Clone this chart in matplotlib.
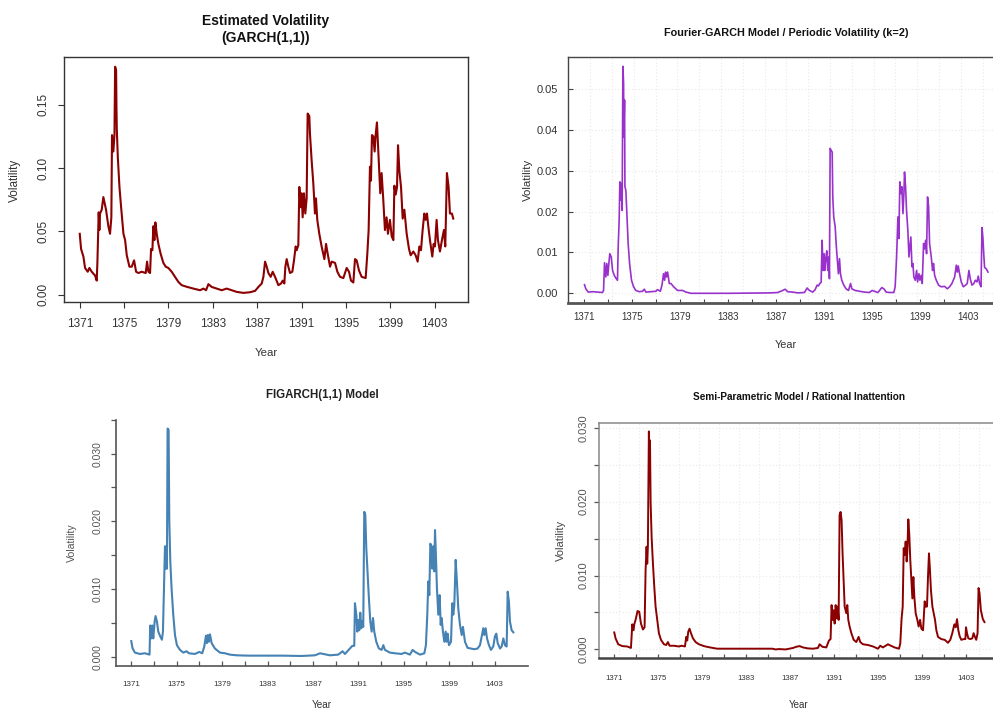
import matplotlib
matplotlib.use("Agg")
import matplotlib.pyplot as plt
from matplotlib.ticker import FixedLocator

plt.rcParams['font.family'] = ['Liberation Sans', 'DejaVu Sans']

# ---------------- data ----------------
year_ticks = [1371, 1375, 1379, 1383, 1387, 1391, 1395, 1399, 1403]
minor_year_ticks = [1373, 1377, 1381, 1385, 1389, 1393, 1397, 1401]

# Panel 1: GARCH(1,1)
garch_years = [
    1371.00, 1371.12, 1371.33, 1371.48, 1371.72, 1371.87, 1372.08, 1372.38, 1372.53, 1372.59,
    1372.71, 1372.77, 1372.83, 1372.98, 1373.13, 1373.37, 1373.58, 1373.73, 1373.85, 1373.91,
    1374.03, 1374.13, 1374.19, 1374.28, 1374.31, 1374.34, 1374.43, 1374.58, 1374.73, 1374.94,
    1375.09, 1375.24, 1375.48, 1375.69, 1375.90, 1376.08, 1376.29, 1376.59, 1376.95, 1377.07,
    1377.19, 1377.34, 1377.43, 1377.55, 1377.64, 1377.73, 1377.82, 1377.94, 1378.09, 1378.30,
    1378.54, 1378.75, 1378.99, 1379.29, 1379.59, 1379.89, 1380.19, 1380.65, 1381.25, 1381.85,
    1382.15, 1382.39, 1382.60, 1382.90, 1383.35, 1383.80, 1384.25, 1384.70, 1385.15, 1385.75,
    1386.35, 1386.81, 1387.11, 1387.41, 1387.56, 1387.71, 1387.86, 1388.01, 1388.22, 1388.40,
    1388.61, 1388.91, 1389.15, 1389.30, 1389.45, 1389.54, 1389.66, 1389.81, 1389.96, 1390.17,
    1390.32, 1390.47, 1390.56, 1390.71, 1390.80, 1390.92, 1391.01, 1391.10, 1391.22, 1391.34,
    1391.46, 1391.55, 1391.70, 1391.76, 1391.91, 1392.06, 1392.21, 1392.30, 1392.42, 1392.60,
    1392.81, 1393.06, 1393.21, 1393.36, 1393.57, 1393.72, 1394.02, 1394.23, 1394.47, 1394.77,
    1395.07, 1395.28, 1395.46, 1395.67, 1395.82, 1395.97, 1396.18, 1396.42, 1396.78, 1396.93,
    1397.05, 1397.17, 1397.26, 1397.35, 1397.47, 1397.59, 1397.68, 1397.80, 1397.89, 1398.01,
    1398.10, 1398.22, 1398.37, 1398.52, 1398.67, 1398.79, 1398.97, 1399.13, 1399.28, 1399.37,
    1399.49, 1399.61, 1399.70, 1399.82, 1399.97, 1400.12, 1400.27, 1400.48, 1400.69, 1400.84,
    1401.08, 1401.29, 1401.47, 1401.62, 1401.77, 1401.92, 1402.07, 1402.19, 1402.31, 1402.43,
    1402.58, 1402.79, 1402.91, 1403.03, 1403.18, 1403.30, 1403.48, 1403.66, 1403.84, 1403.96,
    1404.11, 1404.26, 1404.38, 1404.56, 1404.68]
garch_vol = [
    0.048, 0.036, 0.030, 0.021, 0.018, 0.021, 0.018, 0.015, 0.011, 0.025,
    0.065, 0.051, 0.064, 0.067, 0.077, 0.067, 0.054, 0.048, 0.061, 0.126,
    0.113, 0.126, 0.180, 0.177, 0.148, 0.131, 0.109, 0.085, 0.069, 0.048,
    0.043, 0.031, 0.022, 0.022, 0.027, 0.018, 0.017, 0.018, 0.017, 0.026,
    0.018, 0.017, 0.036, 0.035, 0.054, 0.043, 0.057, 0.048, 0.040, 0.032,
    0.025, 0.022, 0.021, 0.018, 0.014, 0.010, 0.0074, 0.0061, 0.0047, 0.0034,
    0.0047, 0.0034, 0.0082, 0.006, 0.0047, 0.0034, 0.0047, 0.0034, 0.0021, 0.0013,
    0.0018, 0.0029, 0.006, 0.0087, 0.014, 0.026, 0.022, 0.017, 0.014, 0.018,
    0.014, 0.0074, 0.0087, 0.011, 0.0087, 0.022, 0.028, 0.022, 0.017, 0.018,
    0.027, 0.038, 0.035, 0.039, 0.085, 0.069, 0.080, 0.061, 0.080, 0.064,
    0.076, 0.143, 0.141, 0.127, 0.106, 0.088, 0.064, 0.076, 0.059, 0.048,
    0.038, 0.028, 0.040, 0.032, 0.022, 0.026, 0.025, 0.018, 0.014, 0.013,
    0.021, 0.018, 0.011, 0.0095, 0.028, 0.027, 0.019, 0.014, 0.013, 0.032,
    0.051, 0.101, 0.090, 0.126, 0.125, 0.113, 0.126, 0.136, 0.119, 0.096,
    0.080, 0.096, 0.075, 0.051, 0.061, 0.048, 0.059, 0.046, 0.043, 0.086,
    0.079, 0.085, 0.118, 0.098, 0.085, 0.060, 0.067, 0.048, 0.036, 0.031,
    0.034, 0.031, 0.026, 0.038, 0.035, 0.051, 0.064, 0.059, 0.064, 0.054,
    0.043, 0.030, 0.040, 0.038, 0.059, 0.043, 0.034, 0.043, 0.051, 0.038,
    0.096, 0.085, 0.064, 0.064, 0.060]

# Panel 2: Fourier-GARCH
fourier_years = [
    1371.00, 1371.11, 1371.31, 1371.67, 1372.09, 1372.50, 1372.59, 1372.67, 1372.78, 1372.86,
    1372.95, 1373.03, 1373.11, 1373.23, 1373.34, 1373.48, 1373.64, 1373.75, 1373.81, 1373.89,
    1373.95, 1374.03, 1374.09, 1374.14, 1374.20, 1374.26, 1374.28, 1374.34, 1374.37, 1374.45,
    1374.53, 1374.64, 1374.76, 1374.92, 1375.09, 1375.28, 1375.56, 1375.84, 1375.98, 1376.12,
    1376.54, 1376.95, 1377.09, 1377.32, 1377.46, 1377.59, 1377.68, 1377.76, 1377.84, 1377.93,
    1378.07, 1378.21, 1378.43, 1378.76, 1379.18, 1379.46, 1379.88, 1383.00, 1386.50, 1387.11,
    1387.53, 1387.72, 1387.94, 1388.36, 1388.78, 1389.34, 1389.56, 1389.75, 1390.03, 1390.23,
    1390.39, 1390.50, 1390.62, 1390.73, 1390.81, 1390.89, 1390.98, 1391.03, 1391.12, 1391.20,
    1391.28, 1391.37, 1391.42, 1391.48, 1391.56, 1391.65, 1391.70, 1391.78, 1391.90, 1391.98,
    1392.06, 1392.17, 1392.26, 1392.34, 1392.45, 1392.62, 1392.81, 1393.01, 1393.18, 1393.29,
    1393.57, 1393.93, 1394.34, 1394.76, 1394.98, 1395.18, 1395.46, 1395.60, 1395.79, 1395.96,
    1396.15, 1396.43, 1396.79, 1396.90, 1397.02, 1397.13, 1397.21, 1397.29, 1397.38, 1397.46,
    1397.55, 1397.63, 1397.68, 1397.77, 1397.85, 1397.96, 1398.05, 1398.13, 1398.21, 1398.30,
    1398.38, 1398.46, 1398.58, 1398.69, 1398.77, 1398.88, 1398.97, 1399.07, 1399.16, 1399.27,
    1399.35, 1399.44, 1399.52, 1399.60, 1399.69, 1399.77, 1399.91, 1400.02, 1400.10, 1400.19,
    1400.33, 1400.52, 1400.74, 1401.02, 1401.25, 1401.44, 1401.63, 1401.86, 1402.00, 1402.08,
    1402.16, 1402.27, 1402.41, 1402.58, 1402.77, 1402.91, 1403.05, 1403.16, 1403.30, 1403.46,
    1403.58, 1403.72, 1403.83, 1403.94, 1404.06, 1404.14, 1404.22, 1404.30, 1404.36, 1404.50,
    1404.64]
fourier_vol = [
    0.0021, 0.0011, 0.0003, 0.0004, 0.0003, 0.0002, 0.0007, 0.0075, 0.0040, 0.0073,
    0.0044, 0.0073, 0.0097, 0.0089, 0.0056, 0.0044, 0.0036, 0.0032, 0.0114, 0.0179,
    0.0273, 0.0228, 0.0269, 0.0203, 0.0556, 0.0514, 0.0383, 0.0473, 0.0261, 0.0252,
    0.0195, 0.0122, 0.0073, 0.0032, 0.0016, 0.0007, 0.0004, 0.0005, 0.0010, 0.0003,
    0.0004, 0.0005, 0.0009, 0.0005, 0.0020, 0.0048, 0.0032, 0.0052, 0.0040, 0.0052,
    0.0024, 0.0024, 0.0016, 0.0007, 0.0007, 0.0003, 0.0000, 0.0000, 0.0001, 0.0002,
    0.0007, 0.0010, 0.0004, 0.0003, 0.0001, 0.0002, 0.0013, 0.0007, 0.0003, 0.0009,
    0.0020, 0.0018, 0.0024, 0.0027, 0.0130, 0.0056, 0.0097, 0.0056, 0.0085, 0.0104,
    0.0056, 0.0089, 0.0036, 0.0355, 0.0350, 0.0346, 0.0236, 0.0187, 0.0163, 0.0122,
    0.0089, 0.0048, 0.0085, 0.0048, 0.0032, 0.0020, 0.0011, 0.0007, 0.0024, 0.0011,
    0.0007, 0.0005, 0.0003, 0.0002, 0.0007, 0.0005, 0.0002, 0.0007, 0.0014, 0.0011,
    0.0003, 0.0002, 0.0002, 0.0016, 0.0089, 0.0187, 0.0134, 0.0273, 0.0244, 0.0261,
    0.0195, 0.0244, 0.0297, 0.0261, 0.0203, 0.0154, 0.0089, 0.0114, 0.0138, 0.0065,
    0.0073, 0.0040, 0.0032, 0.0056, 0.0028, 0.0048, 0.0032, 0.0044, 0.0024, 0.0122,
    0.0109, 0.0130, 0.0097, 0.0236, 0.0212, 0.0122, 0.0089, 0.0056, 0.0073, 0.0044,
    0.0032, 0.0020, 0.0016, 0.0017, 0.0011, 0.0016, 0.0024, 0.0040, 0.0069, 0.0052,
    0.0067, 0.0048, 0.0028, 0.0016, 0.0020, 0.0024, 0.0056, 0.0036, 0.0020, 0.0024,
    0.0032, 0.0028, 0.0042, 0.0024, 0.0016, 0.0161, 0.0134, 0.0089, 0.0063, 0.0060,
    0.0052]

# Panel 3: FIGARCH(1,1)
figarch_years = [
    1371.00, 1371.12, 1371.32, 1371.76, 1372.20, 1372.61, 1372.67, 1372.76, 1372.85, 1372.94,
    1373.06, 1373.14, 1373.26, 1373.38, 1373.55, 1373.70, 1373.79, 1373.88, 1373.97, 1374.02,
    1374.08, 1374.14, 1374.20, 1374.29, 1374.35, 1374.44, 1374.55, 1374.70, 1374.85, 1375.02,
    1375.29, 1375.58, 1375.87, 1376.08, 1376.61, 1376.99, 1377.25, 1377.43, 1377.58, 1377.66,
    1377.75, 1377.84, 1377.93, 1378.08, 1378.37, 1378.81, 1379.25, 1379.69, 1380.28, 1381.31,
    1382.77, 1384.24, 1386.00, 1387.18, 1387.62, 1387.91, 1388.50, 1389.23, 1389.61, 1389.82,
    1390.26, 1390.47, 1390.64, 1390.70, 1390.82, 1390.91, 1390.99, 1391.08, 1391.17, 1391.26,
    1391.35, 1391.43, 1391.52, 1391.61, 1391.70, 1391.82, 1391.93, 1392.05, 1392.17, 1392.29,
    1392.40, 1392.58, 1392.81, 1393.05, 1393.20, 1393.34, 1393.78, 1394.22, 1394.81, 1395.10,
    1395.54, 1395.78, 1395.99, 1396.43, 1396.81, 1396.95, 1397.07, 1397.16, 1397.25, 1397.34,
    1397.42, 1397.51, 1397.60, 1397.69, 1397.75, 1397.83, 1397.92, 1398.04, 1398.16, 1398.25,
    1398.33, 1398.45, 1398.57, 1398.69, 1398.77, 1398.86, 1398.98, 1399.16, 1399.27, 1399.36,
    1399.45, 1399.57, 1399.68, 1399.80, 1399.95, 1400.10, 1400.21, 1400.39, 1400.62, 1400.92,
    1401.21, 1401.50, 1401.71, 1401.89, 1402.00, 1402.09, 1402.21, 1402.33, 1402.50, 1402.68,
    1402.88, 1403.03, 1403.15, 1403.27, 1403.48, 1403.62, 1403.77, 1403.91, 1404.06, 1404.15,
    1404.26, 1404.35, 1404.50, 1404.65]
figarch_vol = [
    0.0023, 0.0012, 0.0006, 0.0004, 0.0005, 0.0003, 0.0046, 0.0027, 0.0046, 0.0027,
    0.0052, 0.0060, 0.0052, 0.0037, 0.0030, 0.0025, 0.0037, 0.0101, 0.0163, 0.0130,
    0.0163, 0.0130, 0.0337, 0.0335, 0.0200, 0.0140, 0.0101, 0.0062, 0.0032, 0.0017,
    0.0010, 0.0006, 0.0008, 0.0005, 0.0004, 0.0007, 0.0005, 0.0015, 0.0031, 0.0020,
    0.0032, 0.0022, 0.0033, 0.0020, 0.0012, 0.0006, 0.0005, 0.0003, 0.0002, 0.00015,
    0.00015, 0.00015, 0.0001, 0.0002, 0.0005, 0.0004, 0.0002, 0.0003, 0.0008, 0.0004,
    0.0012, 0.0016, 0.0016, 0.0079, 0.0062, 0.0037, 0.0054, 0.0039, 0.0065, 0.0042,
    0.0052, 0.0044, 0.0214, 0.0210, 0.0160, 0.0121, 0.0086, 0.0052, 0.0037, 0.0057,
    0.0037, 0.0022, 0.0012, 0.0010, 0.0017, 0.0010, 0.0006, 0.0005, 0.0004, 0.0006,
    0.0003, 0.0010, 0.0007, 0.0003, 0.0005, 0.0017, 0.0062, 0.0111, 0.0091, 0.0167,
    0.0163, 0.0130, 0.0163, 0.0126, 0.0187, 0.0150, 0.0101, 0.0062, 0.0091, 0.0047,
    0.0057, 0.0037, 0.0022, 0.0037, 0.0022, 0.0034, 0.0017, 0.0022, 0.0079, 0.0062,
    0.0076, 0.0143, 0.0111, 0.0071, 0.0047, 0.0032, 0.0044, 0.0022, 0.0013, 0.0012,
    0.0011, 0.0012, 0.0017, 0.0032, 0.0042, 0.0032, 0.0042, 0.0027, 0.0017, 0.0010,
    0.0015, 0.0030, 0.0034, 0.0020, 0.0012, 0.0015, 0.0027, 0.0017, 0.0015, 0.0096,
    0.0081, 0.0052, 0.0039, 0.0036]

# Panel 4: Semi-parametric / rational inattention
semi_years = [
    1371.00, 1371.12, 1371.36, 1371.73, 1372.18, 1372.52, 1372.64, 1372.76, 1372.82, 1372.94,
    1373.12, 1373.27, 1373.43, 1373.61, 1373.76, 1373.85, 1373.94, 1374.00, 1374.06, 1374.15,
    1374.22, 1374.25, 1374.31, 1374.40, 1374.52, 1374.64, 1374.76, 1374.91, 1375.06, 1375.25,
    1375.52, 1375.73, 1375.88, 1376.03, 1376.43, 1376.88, 1377.13, 1377.43, 1377.55, 1377.64,
    1377.73, 1377.85, 1377.98, 1378.16, 1378.40, 1378.70, 1379.16, 1379.61, 1380.37, 1381.74,
    1383.25, 1385.38, 1385.68, 1385.98, 1386.59, 1387.26, 1387.56, 1387.86, 1388.17, 1388.62,
    1389.08, 1389.53, 1389.68, 1389.93, 1390.29, 1390.53, 1390.68, 1390.77, 1390.87, 1390.96,
    1391.05, 1391.14, 1391.23, 1391.32, 1391.41, 1391.50, 1391.59, 1391.68, 1391.77, 1391.87,
    1391.96, 1392.11, 1392.20, 1392.29, 1392.41, 1392.57, 1392.78, 1393.02, 1393.23, 1393.38,
    1393.62, 1394.08, 1394.54, 1394.99, 1395.20, 1395.44, 1395.90, 1396.11, 1396.50, 1396.90,
    1397.02, 1397.14, 1397.24, 1397.33, 1397.42, 1397.51, 1397.60, 1397.66, 1397.75, 1397.84,
    1397.93, 1398.03, 1398.12, 1398.21, 1398.30, 1398.42, 1398.57, 1398.69, 1398.82, 1398.94,
    1399.09, 1399.24, 1399.33, 1399.45, 1399.54, 1399.63, 1399.72, 1399.81, 1399.94, 1400.06,
    1400.18, 1400.30, 1400.45, 1400.75, 1401.06, 1401.36, 1401.57, 1401.75, 1401.94, 1402.06,
    1402.18, 1402.30, 1402.42, 1402.57, 1402.79, 1402.94, 1403.00, 1403.09, 1403.21, 1403.39,
    1403.57, 1403.69, 1403.81, 1403.93, 1404.05, 1404.14, 1404.23, 1404.35, 1404.53, 1404.68]
semi_vol = [
    0.0023, 0.0015, 0.0007, 0.00045, 0.0004, 0.0002, 0.0034, 0.0026, 0.0034, 0.0040,
    0.0052, 0.0051, 0.0035, 0.0027, 0.0030, 0.0107, 0.0139, 0.0116, 0.0140, 0.0295,
    0.0229, 0.0283, 0.0198, 0.0152, 0.0116, 0.0085, 0.0058, 0.0040, 0.0022, 0.0013,
    0.0007, 0.0006, 0.0010, 0.0005, 0.0005, 0.0004, 0.0005, 0.0004, 0.0017, 0.0012,
    0.0024, 0.0028, 0.0022, 0.0015, 0.0010, 0.0007, 0.00045, 0.0003, 0.0001, 0.0001,
    0.0001, 0.0001, 0.0000, 0.00005, 0.0000, 0.0002, 0.00036, 0.00045, 0.00027, 0.00014,
    0.0001, 0.0002, 0.0007, 0.00036, 0.00027, 0.0012, 0.0014, 0.0060, 0.0040, 0.0053,
    0.0035, 0.0060, 0.0042, 0.0058, 0.0040, 0.0182, 0.0186, 0.0175, 0.0130, 0.0094,
    0.0058, 0.0049, 0.0060, 0.0040, 0.0031, 0.0022, 0.0013, 0.0010, 0.0017, 0.0010,
    0.0007, 0.0006, 0.0004, 0.0001, 0.0005, 0.00027, 0.0007, 0.00054, 0.00027, 0.0001,
    0.0008, 0.0042, 0.0058, 0.0137, 0.0128, 0.0146, 0.0119, 0.0132, 0.0176, 0.0155,
    0.0121, 0.0094, 0.0069, 0.0098, 0.0071, 0.0049, 0.0040, 0.0031, 0.0040, 0.0028,
    0.0026, 0.0065, 0.0058, 0.0058, 0.0098, 0.0130, 0.0107, 0.0080, 0.0058, 0.0049,
    0.0040, 0.0026, 0.0017, 0.0014, 0.0013, 0.0009, 0.0013, 0.0022, 0.0034, 0.0030,
    0.0041, 0.0026, 0.0018, 0.0013, 0.0014, 0.0014, 0.0030, 0.0022, 0.0015, 0.0014,
    0.0015, 0.0022, 0.0017, 0.0013, 0.0022, 0.0083, 0.0076, 0.0053, 0.0041, 0.0037]

# ---------------- layout helpers ----------------
W, H = 993, 712
fig = plt.figure(figsize=(W / 100, H / 100), dpi=100)
PT = 0.72  # points per pixel at 100 dpi


def px_axes(l, t, r, b):
    return fig.add_axes([l / W, 1 - b / H, (r - l) / W, (b - t) / H])


def ftext(x, y, s, **kw):
    kw.setdefault('ha', 'center')
    kw.setdefault('va', 'center')
    fig.text(x / W, 1 - y / H, s, **kw)


def r_grid(ax, xlo, xhi, yvals, color):
    step = (xhi - xlo) / 20.0
    for k in range(1, 20):
        ax.axvline(xlo + k * step, color=color, lw=0.8, ls=(0, (1, 2)), zorder=0)
    for y in yvals:
        ax.axhline(y, color=color, lw=0.8, ls=(0, (1, 2)), zorder=0)


# ---------------- Panel 1 ----------------
ax1 = px_axes(64, 57, 468, 302)
ax1.plot(garch_years, garch_vol, color='#8B0000', lw=1.5)
ax1.set_xlim(1369.58, 1406.01)
ax1.set_ylim(-0.0059, 0.1877)
ax1.set_xticks(year_ticks)
ax1.set_xticklabels([str(y) for y in year_ticks])
ax1.set_yticks([0.0, 0.05, 0.10, 0.15])
ax1.set_yticklabels(['0.00', '0.05', '0.10', '0.15'])
ax1.tick_params(axis='both', direction='out', length=6 * PT, width=0.8,
                color='#333333', labelcolor='#333333', labelsize=8.5)
ax1.tick_params(axis='x', pad=7)
ax1.tick_params(axis='y', labelrotation=90, pad=6)
for lab in ax1.get_yticklabels():
    lab.set_va('center')
for s in ax1.spines.values():
    s.set_color('#333333')
    s.set_linewidth(1.0)
ftext(266, 20.5, 'Estimated Volatility', weight='bold', size=10, color='#111111')
ftext(266, 38, '(GARCH(1,1))', weight='bold', size=10, color='#111111')
ftext(15, 180, 'Volatility', rotation=90, size=8.5, color='#333333')
ftext(266, 353, 'Year', size=8.2, color='#333333')

# ---------------- Panel 2 ----------------
ax2 = px_axes(568.3, 57.3, 1004.3, 302.7)
x2lo, x2hi = 1369.65, 1406.0
r_grid(ax2, x2lo, x2hi, [0.0, 0.01, 0.02, 0.03, 0.04, 0.05], '#e8e8e8')
ax2.plot(fourier_years, fourier_vol, color='#9932CC', lw=1.2)
ax2.set_xlim(x2lo, x2hi)
ax2.set_ylim(-0.0023, 0.0578)
ax2.xaxis.set_major_locator(FixedLocator(year_ticks))
ax2.xaxis.set_minor_locator(FixedLocator(minor_year_ticks))
ax2.set_xticklabels([str(y) for y in year_ticks])
ax2.set_yticks([0.0, 0.01, 0.02, 0.03, 0.04, 0.05])
ax2.set_yticklabels(['0.00', '0.01', '0.02', '0.03', '0.04', '0.05'])
ax2.tick_params(axis='both', which='both', direction='in', length=4.5 * PT, width=0.8,
                color='#444444', labelcolor='#333333')
ax2.tick_params(axis='x', which='major', labelsize=7, pad=7)
ax2.tick_params(axis='y', labelsize=8, pad=7.2)
for name in ('left', 'top', 'right'):
    ax2.spines[name].set_color('#444444')
    ax2.spines[name].set_linewidth(1.0)
ax2.spines['bottom'].set_color('#555555')
ax2.spines['bottom'].set_linewidth(2.0)
ftext(786, 33, 'Fourier-GARCH Model / Periodic Volatility (k=2)', weight='bold',
      size=7.8, color='#111111')
ftext(528, 180, 'Volatility', rotation=90, size=8.2, color='#333333')
ftext(786, 345, 'Year', size=7.8, color='#333333')

# ---------------- Panel 3 ----------------
ax3 = px_axes(115.7, 413.0, 528, 666)
ax3.plot(figarch_years, figarch_vol, color='#4682B4', lw=1.5)
ax3.set_xlim(1369.63, 1405.94)
ax3.set_ylim(-0.00138, 0.036)
ax3.spines['top'].set_visible(False)
ax3.spines['right'].set_visible(False)
ax3.spines['left'].set_bounds(-0.00138, 0.035)
for name in ('left', 'bottom'):
    ax3.spines[name].set_color('#555555')
    ax3.spines[name].set_linewidth(1.2)
ax3.xaxis.set_major_locator(FixedLocator(year_ticks))
ax3.xaxis.set_minor_locator(FixedLocator(minor_year_ticks))
ax3.set_xticklabels([str(y) for y in year_ticks])
ax3.yaxis.set_major_locator(FixedLocator([0.0, 0.01, 0.02, 0.03]))
ax3.yaxis.set_minor_locator(FixedLocator([0.005, 0.015, 0.025, 0.035]))
ax3.set_yticklabels(['0.000', '0.010', '0.020', '0.030'])
ax3.tick_params(axis='x', which='both', direction='in', length=5 * PT, width=0.9,
                color='#555555')
ax3.tick_params(axis='x', which='major', labelsize=5.8, labelcolor='#333333', pad=11)
ax3.tick_params(axis='y', which='both', direction='out', length=5.5 * PT, width=0.9,
                color='#555555')
ax3.tick_params(axis='y', which='major', labelsize=7.5, labelcolor='#555555',
                labelrotation=90, pad=5.8)
for lab in ax3.get_yticklabels():
    lab.set_va('center')
ftext(322, 395, 'FIGARCH(1,1) Model', weight='bold', size=8.3, color='#222222')
ftext(72, 543, 'Volatility', rotation=90, size=7.6, color='#555555')
ftext(322, 700.5, 'Year', va='top', size=7.2, color='#333333')

# ---------------- Panel 4 ----------------
ax4 = px_axes(599.3, 423.3, 999, 658.3)
x4lo, x4hi = 1369.64, 1406.0
r_grid(ax4, x4lo, x4hi, [0.0, 0.005, 0.01, 0.015, 0.02, 0.025, 0.03], '#e9e9e9')
ax4.plot(semi_years, semi_vol, color='#8B0000', lw=1.4)
ax4.set_xlim(x4lo, x4hi)
ax4.set_ylim(-0.0012, 0.0306)
ax4.xaxis.set_major_locator(FixedLocator(year_ticks))
ax4.xaxis.set_minor_locator(FixedLocator(minor_year_ticks))
ax4.set_xticklabels([str(y) for y in year_ticks])
ax4.yaxis.set_major_locator(FixedLocator([0.0, 0.01, 0.02, 0.03]))
ax4.yaxis.set_minor_locator(FixedLocator([0.005, 0.015, 0.025]))
ax4.set_yticklabels(['0.000', '0.010', '0.020', '0.030'])
ax4.tick_params(axis='x', which='both', direction='in', length=4.5 * PT, width=0.9,
                color='#555555')
ax4.tick_params(axis='x', which='major', labelsize=5.6, labelcolor='#333333', pad=12.2)
ax4.tick_params(axis='y', which='both', direction='out', length=5 * PT, width=0.9,
                color='#555555')
ax4.tick_params(axis='y', which='major', labelsize=8, labelcolor='#555555',
                labelrotation=90, pad=3.8)
for lab in ax4.get_yticklabels():
    lab.set_va('center')
for name in ('left', 'top', 'right'):
    ax4.spines[name].set_color('#888888')
    ax4.spines[name].set_linewidth(1.1)
ax4.spines['bottom'].set_color('#444444')
ax4.spines['bottom'].set_linewidth(1.8)
ftext(799, 396.7, 'Semi-Parametric Model / Rational Inattention', weight='bold',
      size=7.2, color='#111111')
ftext(561, 540.8, 'Volatility', rotation=90, size=8, color='#444444')
ftext(799, 700.5, 'Year', va='top', size=7, color='#333333')

fig.savefig('out.png', dpi=100)
